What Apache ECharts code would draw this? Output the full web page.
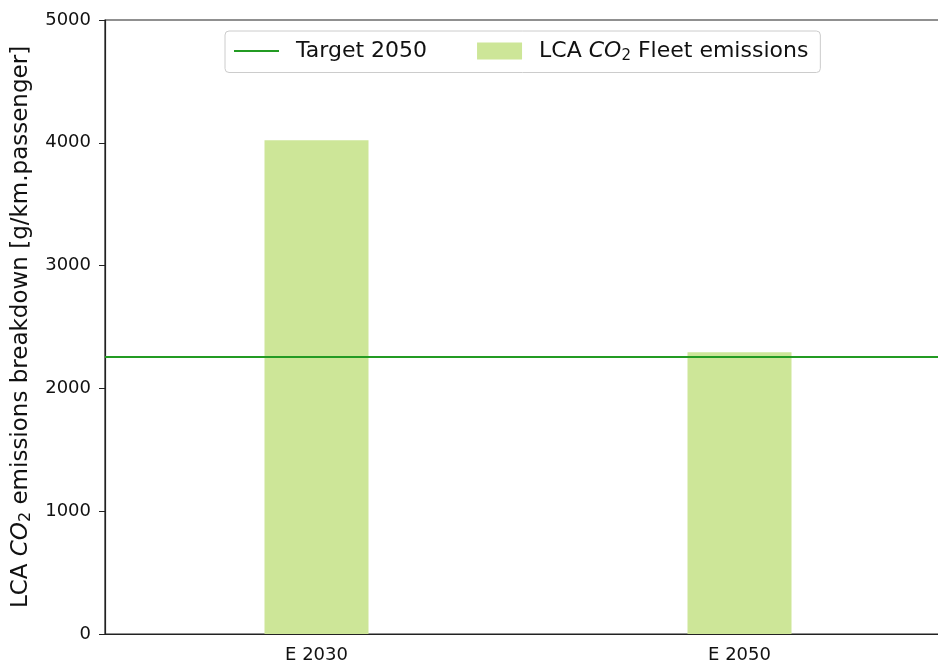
<!DOCTYPE html>
<html>
<head>
<meta charset="utf-8">
<script src="https://cdn.jsdelivr.net/npm/echarts@6/dist/echarts.min.js"></script>
<style>
  html, body { margin: 0; padding: 0; background: #fff; }
  #chart { width: 938px; height: 666px; }
</style>
</head>
<body>
<div id="chart"></div>
<script>
var categories = ['E 2030', 'E 2050'];
var fleetEmissions = [4020, 2295];   // LCA CO2 fleet emissions
var target2050 = 2258;               // horizontal target line
var yTicks = [0, 1000, 2000, 3000, 4000, 5000];

var font = 'DejaVu Sans';
var txt = '#111';

// rich styles for the CO2 subscript (legend and y axis name)
function richFor(size) {
  return {
    it: { fontStyle: 'italic', fontSize: size, fontFamily: font, color: txt },
    sub: { fontSize: Math.round(size * 0.68), fontFamily: font, color: txt, verticalAlign: 'bottom', padding: [Math.round(size * 0.45), 0, 0, 0] },
    n: { fontSize: size, fontFamily: font, color: txt },
    g: { width: 12 }
  };
}

var option = {
  backgroundColor: '#fff',
  animation: false,
  grid: {
    show: true,
    left: 105,
    top: 20,
    width: 846,
    height: 614,
    outerBoundsMode: 'none',
    borderColor: '#222',
    borderWidth: 1.2,
    backgroundColor: 'transparent'
  },
  legend: {
    top: 31,
    left: 225,
    itemWidth: 45,
    itemHeight: 17,
    itemGap: 50,
    padding: [9, 12, 9, 8],
    borderColor: '#ccc',
    borderWidth: 1,
    borderRadius: 4,
    textStyle: { fontSize: 22, fontFamily: font, color: txt, rich: richFor(22) },
    formatter: function (name) {
      if (name === 'fleet') return '{g|}{n|LCA }{it|CO}{sub|2}{n| Fleet emissions}';
      return '{g|}{n|' + name + '}';
    },
    data: [
      { name: 'Target 2050', itemStyle: { opacity: 0 } },
      { name: 'fleet', icon: 'rect' }
    ]
  },
  xAxis: {
    type: 'category',
    data: categories,
    boundaryGap: true,
    axisLine: { lineStyle: { color: '#222', width: 1.2 } },
    axisTick: { alignWithLabel: true, length: 6, lineStyle: { color: '#222' } },
    axisLabel: { fontSize: 18, fontFamily: font, color: txt, margin: 12 }
  },
  yAxis: {
    type: 'value',
    min: yTicks[0],
    max: yTicks[yTicks.length - 1],
    interval: 1000,
    splitLine: { show: false },
    axisLine: { show: true, lineStyle: { color: '#222', width: 1.2 } },
    axisTick: { show: true, length: 6, lineStyle: { color: '#222' } },
    axisLabel: {
      fontSize: 18, fontFamily: font, color: txt, margin: 14,
      formatter: function (v) { return String(v); }
    },
    name: '{n|LCA }{it|CO}{sub|2}{n| emissions breakdown [g/km.passenger]}',
    nameLocation: 'middle',
    nameGap: 67,
    nameRotate: 90,
    nameTextStyle: { rich: richFor(23) }
  },
  series: [
    {
      name: 'fleet',
      type: 'bar',
      data: fleetEmissions,
      barWidth: 104,
      itemStyle: { color: '#cde698' },
      z: 1
    },
    {
      name: 'Target 2050',
      type: 'line',
      data: [],
      symbol: 'none',
      lineStyle: { color: '#239b23', width: 2 },
      itemStyle: { color: '#239b23' },
      markLine: {
        silent: true,
        symbol: 'none',
        label: { show: false },
        lineStyle: { color: '#239b23', width: 2, type: 'solid' },
        data: [{ yAxis: target2050 }]
      },
      z: 3
    }
  ]
};

var myChart = echarts.init(document.getElementById('chart'));
myChart.setOption(option);
</script>
</body>
</html>
